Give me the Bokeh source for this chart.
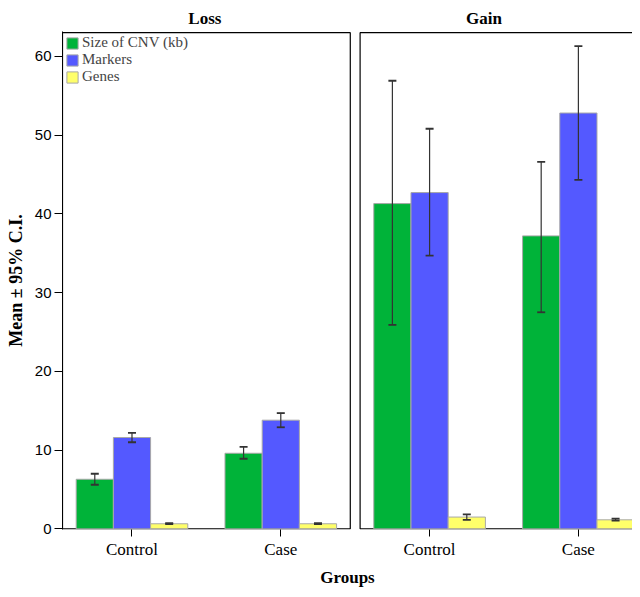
from bokeh.plotting import figure
from bokeh.models import (ColumnDataSource, Whisker, TeeHead, FixedTicker, LinearAxis,
                          Legend, LegendItem, Range1d)
from bokeh.embed import file_html
from bokeh.resources import INLINE

# ---------------- data ----------------
panels = ["Loss", "Gain"]
groups = ["Control", "Case"]
series = ["Size of CNV (kb)", "Markers", "Genes"]
colors = ["#00B339", "#5459FF", "#FFFF6A"]

# means, order: Loss-Control, Loss-Case, Gain-Control, Gain-Case
size_mean = [6.3, 9.6, 41.3, 37.2]
size_low = [5.6, 8.9, 25.9, 27.5]
size_high = [7.0, 10.4, 56.9, 46.6]

markers_mean = [11.6, 13.8, 42.7, 52.8]
markers_low = [11.0, 12.9, 34.7, 44.3]
markers_high = [12.2, 14.7, 50.8, 61.3]

genes_mean = [0.65, 0.65, 1.5, 1.15]
genes_low = [0.60, 0.60, 1.15, 1.05]
genes_high = [0.72, 0.72, 1.85, 1.30]

y_ticks = [0, 10, 20, 30, 40, 50, 60]

# ---------------- layout ----------------
SERIF = "'Liberation Serif', 'Times New Roman', serif"
SANS = "'Liberation Sans', Arial, sans-serif"

W, H = 632, 589
ML, MT, MB = 62, 31, 58
FW = W - ML
group_pos = [1, 2, 3, 4]          # positions of the four group ticks
bar_w = 0.25
offsets = [-bar_w, 0.0, bar_w]
half = 0.467                        # half-extent of a panel beyond its outer groups
x0 = 0.533
x1 = x0 + FW / 148.8
t0, t1 = 1.49, 3.366                # where the panel titles sit (main x units)

p = figure(width=W, height=H, output_backend="svg", toolbar_location=None,
           x_range=Range1d(x0, x1), y_range=Range1d(-0.08, 63.15),
           min_border_left=ML, min_border_right=0, min_border_top=MT, min_border_bottom=MB)
p.outline_line_color = None
p.xgrid.grid_line_color = None
p.ygrid.grid_line_color = None
p.background_fill_color = "white"
p.border_fill_color = "white"

# panel frames
p.quad(left=[group_pos[0] - half, group_pos[2] - half],
       right=[group_pos[1] + half, group_pos[3] + half],
       bottom=[0, 0], top=[63, 63],
       fill_alpha=0, line_color="black", line_width=1.2)

means = [size_mean, markers_mean, genes_mean]
lows = [size_low, markers_low, genes_low]
highs = [size_high, markers_high, genes_high]

legend_items = []
for i, name in enumerate(series):
    src = ColumnDataSource(dict(
        x=[g + offsets[i] for g in group_pos],
        top=means[i], lower=lows[i], upper=highs[i]))
    r = p.vbar(x="x", top="top", width=bar_w, bottom=0, source=src,
               fill_color=colors[i], line_color="#A8A8A8", line_width=1)
    legend_items.append(LegendItem(label=name, renderers=[r]))
    w = Whisker(base="x", upper="upper", lower="lower", source=src, level="overlay",
                line_color="#333333", line_width=1.2,
                upper_head=TeeHead(size=8, line_color="#333333", line_width=1.8),
                lower_head=TeeHead(size=8, line_color="#333333", line_width=1.8))
    p.add_layout(w)

legend = Legend(items=legend_items, location="top_left", margin=0, padding=3,
                spacing=0, glyph_width=14, glyph_height=14, label_standoff=3,
                label_text_font=SERIF, label_text_font_size="15px",
                border_line_alpha=0, background_fill_alpha=0)
p.add_layout(legend)

# panel titles: an axis above, on its own range where the titles sit at 1 and 2
p.extra_x_ranges = {"titles": Range1d(1 + (x0 - t0) / (t1 - t0), 1 + (x1 - t0) / (t1 - t0))}
tax = LinearAxis(x_range_name="titles", ticker=FixedTicker(ticks=[1, 2]),
                 major_label_overrides={1: panels[0], 2: panels[1]},
                 axis_line_color=None, major_tick_line_color=None, minor_tick_line_color=None,
                 major_tick_in=0, major_tick_out=0, major_label_standoff=4,
                 major_label_text_font=SERIF, major_label_text_font_style="bold",
                 major_label_text_font_size="17px", major_label_text_color="black")
p.add_layout(tax, "above")

# x axis
xa = p.below[0]
xa.ticker = FixedTicker(ticks=group_pos)
xa.major_label_overrides = {g: lab for g, lab in zip(group_pos, groups * 2)}
xa.axis_line_color = None
xa.major_tick_out = 7
xa.major_tick_in = 0
xa.major_tick_line_color = "black"
xa.minor_tick_line_color = None
xa.major_label_standoff = 3
xa.major_label_text_font = SERIF
xa.major_label_text_font_size = "17px"
xa.major_label_text_color = "black"
xa.axis_label = "Groups"
xa.axis_label_text_font = SERIF
xa.axis_label_text_font_style = "bold"
xa.axis_label_text_font_size = "17px"
xa.axis_label_text_color = "black"
xa.axis_label_standoff = 6

# y axis
p.yaxis.ticker = FixedTicker(ticks=y_ticks)
p.yaxis.axis_line_color = "black"
p.yaxis.major_tick_out = 8
p.yaxis.major_tick_in = 0
p.yaxis.minor_tick_line_color = None
p.yaxis.major_label_standoff = 3
p.yaxis.major_label_text_font = SANS
p.yaxis.major_label_text_font_size = "15px"
p.yaxis.major_label_text_color = "black"
p.yaxis.axis_label = "Mean \u00b1 95% C.I."
p.yaxis.axis_label_text_font = SERIF
p.yaxis.axis_label_text_font_style = "bold"
p.yaxis.axis_label_text_font_size = "18px"
p.yaxis.axis_label_text_color = "black"
p.yaxis.axis_label_standoff = 6

open("out.html", "w").write(file_html(p, INLINE))
